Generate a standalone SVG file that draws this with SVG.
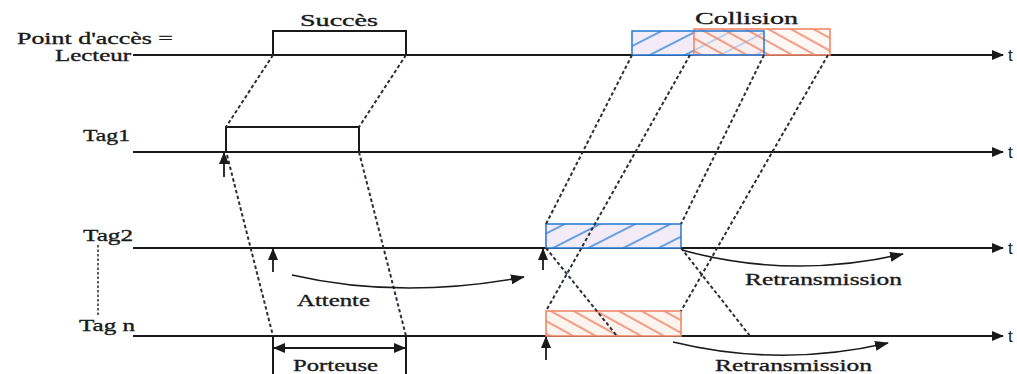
<svg xmlns="http://www.w3.org/2000/svg" width="1017" height="374" viewBox="0 0 1017 374">
  <style>
    .lbl { font-family: "Liberation Serif", "Times New Roman", serif; font-size: 17px; fill: #1a1a1a; stroke: #1a1a1a; stroke-width: 0.35; }
    .tt { font-family: "Liberation Sans", Arial, sans-serif; font-size: 17px; fill: #1a1a1a; }
    .axis { stroke: #1a1a1a; stroke-width: 1.8; fill: none; }
    .frame { stroke: #1a1a1a; stroke-width: 2; fill: none; }
    .dash { stroke: #2a2f38; stroke-width: 2; stroke-dasharray: 3.5 2.5; fill: none; }
    .curve { stroke: #1a1a1a; stroke-width: 1.6; fill: none; }
    .blue { stroke: #2f7fd6; stroke-width: 1.6; }
    .red { stroke: #f0876a; stroke-width: 1.6; }
  </style>
  <defs>
    <marker id="ah" viewBox="0 0 12 10" refX="11" refY="5" markerWidth="12" markerHeight="10" markerUnits="userSpaceOnUse" orient="auto-start-reverse">
      <path d="M0,0 L12,5 L0,10 Z" fill="#1a1a1a"/>
    </marker>
    <marker id="ahc" viewBox="0 0 14 10" refX="13" refY="5" markerWidth="14" markerHeight="10" markerUnits="userSpaceOnUse" orient="auto">
      <path d="M0,0 L14,5 L0,10 Z" fill="#1a1a1a"/>
    </marker>
    <pattern id="hatchBlue" width="10" height="16" patternUnits="userSpaceOnUse" patternTransform="rotate(-27)">
      <line x1="0" y1="8" x2="10" y2="8" stroke="#2f7fd6" stroke-width="1.4"/>
    </pattern>
    <pattern id="hatchRed" width="10" height="11" patternUnits="userSpaceOnUse" patternTransform="rotate(29)">
      <line x1="0" y1="5" x2="10" y2="5" stroke="#f0876a" stroke-width="1.6"/>
    </pattern>
  </defs>

  <rect width="1017" height="374" fill="#ffffff"/>

  <!-- Reader (access point) time axis -->
  <g id="reader">
    <text class="lbl" x="17" y="44" textLength="156" lengthAdjust="spacingAndGlyphs">Point d'accès =</text>
    <text class="lbl" x="55" y="61" textLength="76" lengthAdjust="spacingAndGlyphs">Lecteur</text>
    <line class="axis" x1="133" y1="55" x2="1003" y2="55" marker-end="url(#ah)"/>
    <text class="tt" x="1008" y="61">t</text>
  </g>

  <g id="succes">
    <text class="lbl" x="300" y="26" textLength="78" lengthAdjust="spacingAndGlyphs">Succès</text>
    <polyline class="frame" points="273,55 273,31 406,31 406,55"/>
  </g>

  <g id="collision">
    <text class="lbl" x="695" y="24" textLength="103" lengthAdjust="spacingAndGlyphs">Collision</text>
    <rect x="632" y="31" width="132" height="24" fill="#f3ecf8"/>
    <rect x="632" y="31" width="132" height="24" fill="url(#hatchBlue)"/>
    <rect x="694" y="29" width="136" height="26" fill="#fdf1ec" fill-opacity="0.6"/>
    <rect x="694" y="29" width="136" height="26" fill="url(#hatchRed)"/>
    <rect x="694" y="29" width="136" height="26" fill="none" class="red"/>
    <rect x="632" y="31" width="132" height="24" fill="none" class="blue"/>
  </g>

  <!-- Tag 1 -->
  <g id="tag1">
    <text class="lbl" x="83" y="141" textLength="47" lengthAdjust="spacingAndGlyphs">Tag1</text>
    <line class="axis" x1="133" y1="152" x2="1003" y2="152" marker-end="url(#ah)"/>
    <text class="tt" x="1008" y="158">t</text>
    <polyline class="frame" points="226,152 226,127 359,127 359,152"/>
  </g>

  <!-- Tag 2 -->
  <g id="tag2">
    <text class="lbl" x="83" y="241" textLength="50" lengthAdjust="spacingAndGlyphs">Tag2</text>
    <line class="axis" x1="133" y1="248" x2="1003" y2="248" marker-end="url(#ah)"/>
    <text class="tt" x="1008" y="254">t</text>
    <rect x="546" y="224" width="135" height="24" fill="#f3ecf8"/>
    <rect x="546" y="224" width="135" height="24" fill="url(#hatchBlue)"/>
    <rect x="546" y="224" width="135" height="24" fill="none" class="blue"/>
  </g>

  <!-- Tag n -->
  <g id="tagn">
    <text class="lbl" x="79" y="331" textLength="56" lengthAdjust="spacingAndGlyphs">Tag n</text>
    <line class="axis" x1="133" y1="336" x2="1003" y2="336" marker-end="url(#ah)"/>
    <text class="tt" x="1008" y="342">t</text>
    <rect x="546" y="311" width="135" height="25" fill="#fdf3ef"/>
    <rect x="546" y="311" width="135" height="25" fill="url(#hatchRed)"/>
    <rect x="546" y="311" width="135" height="25" fill="none" class="red"/>
  </g>

  <g id="porteuse">
    <line class="frame" x1="273" y1="336" x2="273" y2="374"/>
    <line class="frame" x1="406" y1="336" x2="406" y2="374"/>
    <line class="axis" x1="274" y1="348" x2="405" y2="348" marker-start="url(#ah)" marker-end="url(#ah)"/>
    <text class="lbl" x="293" y="371" textLength="85" lengthAdjust="spacingAndGlyphs">Porteuse</text>
  </g>

  <g id="labels">
    <text class="lbl" x="297" y="306" textLength="73" lengthAdjust="spacingAndGlyphs">Attente</text>
    <text class="lbl" x="745" y="285" textLength="157" lengthAdjust="spacingAndGlyphs">Retransmission</text>
    <text class="lbl" x="715" y="371" textLength="157" lengthAdjust="spacingAndGlyphs">Retransmission</text>
  </g>

  <!-- Connectors: propagation lines, triggers and waits -->
  <g id="connectors">
    <line class="dash" x1="273" y1="55" x2="226" y2="127"/>
    <line class="dash" x1="406" y1="55" x2="359" y2="127"/>
    <line class="dash" x1="227" y1="155" x2="273" y2="336"/>
    <line class="dash" x1="359" y1="152" x2="406" y2="336"/>

    <line class="dash" x1="632" y1="55" x2="546" y2="224"/>
    <line class="dash" x1="690" y1="55" x2="546" y2="311"/>
    <line class="dash" x1="764" y1="55" x2="681" y2="224"/>
    <line class="dash" x1="828" y1="55" x2="681" y2="311"/>
    <line class="dash" x1="546" y1="248" x2="617" y2="336"/>
    <line class="dash" x1="681" y1="248" x2="750" y2="336"/>

    <line stroke="#1a1a1a" stroke-width="1.4" stroke-dasharray="2.5 2" x1="98" y1="245" x2="98" y2="317"/>

    <line class="axis" x1="224" y1="177" x2="224" y2="153" marker-end="url(#ah)"/>
    <line class="axis" x1="273" y1="272" x2="273" y2="249" marker-end="url(#ah)"/>
    <line class="axis" x1="543" y1="270" x2="543" y2="249" marker-end="url(#ah)"/>
    <line class="axis" x1="546" y1="360" x2="546" y2="337" marker-end="url(#ah)"/>

    <path class="curve" d="M292,275 Q400,300 524,277" marker-end="url(#ahc)"/>
    <path class="curve" d="M682,250 Q790,280 903,254" marker-end="url(#ahc)"/>
    <path class="curve" d="M673,342 Q780,368 888,343" marker-end="url(#ahc)"/>
  </g>
</svg>
